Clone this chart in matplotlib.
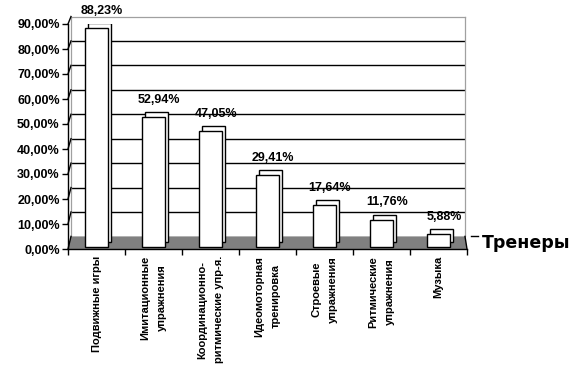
import matplotlib
matplotlib.use("Agg")
import matplotlib.pyplot as plt
from matplotlib.patches import Polygon, Rectangle
from matplotlib.lines import Line2D
from matplotlib.transforms import ScaledTranslation, IdentityTransform
import numpy as np

plt.rcParams['font.family'] = ['Liberation Sans', 'DejaVu Sans']

categories = ["Подвижные игры",
              "Имитационные\nупражнения",
              "Координационно-\nритмические упр-я.",
              "Идеомоторная\nтренировка",
              "Строевые\nупражнения",
              "Ритмические\nупражнения",
              "Музыка"]
values = [88.23, 52.94, 47.05, 29.41, 17.64, 11.76, 5.88]
value_labels = ["88,23%", "52,94%", "47,05%", "29,41%", "17,64%", "11,76%", "5,88%"]
yticks = list(range(0, 100, 10))
ytick_labels = ["%d,00%%" % t for t in yticks]
series_name = "Тренеры"

W, H = 586, 379
fig = plt.figure(figsize=(W / 100, H / 100), dpi=100)
fig.patch.set_facecolor("white")

def fr(l, t, r, b):
    return [l / W, 1 - b / H, (r - l) / W, (b - t) / H]

# back wall
axb = fig.add_axes(fr(71, 16.5, 465, 236.4), zorder=0)
axb.set_xlim(0, 1)
axb.set_ylim(0, 90)
axb.set_facecolor("none")
axb.set_xticks([])
axb.set_yticks(yticks[1:-1])
axb.tick_params(left=False, labelleft=False)
axb.yaxis.grid(True, color="black", linewidth=1.0)
for s in ["left", "top", "right"]:
    axb.spines[s].set_color("#a0a0a0")
    axb.spines[s].set_linewidth(0.9)
axb.spines["bottom"].set_visible(False)

# front axes
ax = fig.add_axes(fr(68, 24, 467, 249), zorder=2)
ax.set_xlim(0, 7)
ax.set_ylim(0, 90)
ax.set_facecolor("none")
for s in ["top", "right"]:
    ax.spines[s].set_visible(False)
ax.spines["left"].set_color("black")
ax.spines["bottom"].set_color("black")
ax.spines["left"].set_linewidth(1.0)
ax.spines["bottom"].set_linewidth(1.0)
ax.set_yticks(yticks)
ax.set_yticklabels(ytick_labels, fontsize=9, fontweight="bold")
ax.tick_params(axis="y", direction="out", length=4, width=1, pad=2)
ax.set_xticks(np.arange(0, 8))
ax.set_xticklabels([])
ax.tick_params(axis="x", direction="out", length=4.5, width=1)

# floor (gray) in display coordinates
fl = ax.transData.transform((0, 0))
frr = ax.transData.transform((7, 0))
bl = axb.transData.transform((0, 0))
br = axb.transData.transform((1, 0))
floor = Polygon([fl, frr, br, bl], closed=True, facecolor="#808080",
                edgecolor="none", transform=IdentityTransform(), zorder=1)
fig.add_artist(floor)
fig.add_artist(Line2D([br[0], frr[0]], [br[1], frr[1]], color="black", lw=1,
                      transform=IdentityTransform(), zorder=1.5))
fig.add_artist(Line2D([br[0] + 6, br[0] + 13], [br[1], br[1]], color="black", lw=1,
                      transform=IdentityTransform(), zorder=1.5))

# diagonal connectors from front ticks to back wall
for t in yticks:
    p0 = ax.transData.transform((0, t))
    p1 = axb.transData.transform((0, t))
    fig.add_artist(Line2D([p0[0], p1[0]], [p0[1], p1[1]], color="black", lw=1,
                          transform=IdentityTransform(), zorder=1.5))

# bars
x = np.arange(len(values)) + 0.5
bw = 0.42
base = 1.0
depth = ScaledTranslation(3 / 100, 5 / 100, fig.dpi_scale_trans)
for xi, v in zip(x, values):
    back = Rectangle((xi - bw / 2, base), bw, v - base, facecolor="white",
                     edgecolor="black", lw=1.0, transform=ax.transData + depth, zorder=3)
    ax.add_patch(back)
    front = Rectangle((xi - bw / 2, base), bw, v - base, facecolor="white",
                      edgecolor="black", lw=1.0, zorder=4)
    ax.add_patch(front)

# value labels
for xi, v, lab in zip(x, values, value_labels):
    ax.annotate(lab, (xi, v), xytext=(4, 8), textcoords="offset points",
                ha="center", va="bottom", fontsize=9, fontweight="bold",
                zorder=6, annotation_clip=False)

# category labels
for xi, lab in zip(x, categories):
    ax.annotate(lab, (xi, 0), xytext=(0, -5), textcoords="offset points",
                ha="center", va="top", rotation=90, fontsize=8,
                fontweight="bold", multialignment="center", linespacing=1.75,
                annotation_clip=False)

# series name
fig.text(482 / W, 1 - 243 / H, series_name, fontsize=12.5, fontweight="bold",
         family="DejaVu Sans", ha="left", va="center")

fig.savefig("out.png", dpi=100)
